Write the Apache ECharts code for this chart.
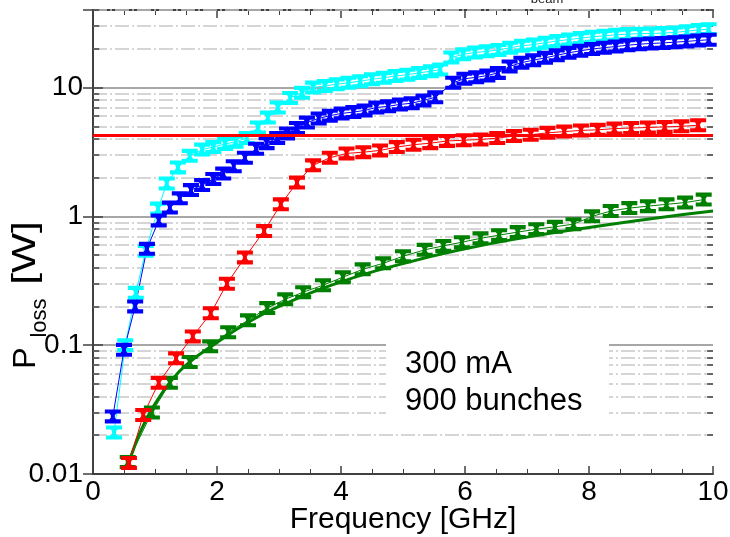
<!DOCTYPE html>
<html>
<head>
<meta charset="utf-8">
<script src="https://cdn.jsdelivr.net/npm/echarts@6/dist/echarts.min.js"></script>
<style>
  html, body { margin: 0; padding: 0; background: #fff; }
  #chart { width: 730px; height: 537px; }
</style>
</head>
<body>
<div id="chart"></div>
<script>
// measured data (frequency in GHz, loss in W)
var cyanFreq = [0.34, 0.52, 0.69, 0.85, 1.05, 1.19, 1.37, 1.56, 1.76, 1.94, 2.13, 2.30, 2.48, 2.66, 2.82, 2.98, 3.18, 3.37,
    3.55, 3.74, 3.93, 4.12, 4.31, 4.50, 4.69, 4.88, 5.07, 5.26, 5.45, 5.60,
    5.78, 5.97, 6.16, 6.35, 6.54, 6.73, 6.92, 7.11, 7.30, 7.49, 7.68, 7.87, 8.06, 8.25, 8.44, 8.63, 8.82, 9.01, 9.20, 9.39, 9.58, 9.77, 9.93];
var cyanLoss = [0.021, 0.100, 0.255, 0.54, 1.15, 1.8, 2.4, 2.95, 3.3, 3.45, 3.65, 3.8, 4.05, 4.9, 5.85, 7.0, 8.3, 9.1,
    10.0, 10.3, 10.6, 10.9, 11.2, 11.6, 11.9, 12.3, 12.6, 13.0, 13.4, 13.8,
    17.1, 18.1, 18.7, 19.1, 19.6, 20.4, 21.1, 21.6, 22.3, 23.0, 23.6, 24.2, 24.8, 25.2, 25.7, 26.0, 26.2, 26.3, 26.5, 26.8, 27.4, 28.0, 28.4];

var blueFreq = [0.32, 0.50, 0.68, 0.87, 1.06, 1.24, 1.40, 1.58, 1.76, 1.94, 2.10, 2.27, 2.45, 2.63, 2.80, 2.97, 3.13, 3.29,
    3.45, 3.64, 3.82, 4.01, 4.20, 4.38, 4.57, 4.76, 4.95, 5.14, 5.33, 5.52,
    5.81, 5.99, 6.18, 6.36, 6.53, 6.72, 6.91, 7.10, 7.29, 7.48, 7.67, 7.86, 8.05, 8.24, 8.43, 8.62, 8.81, 9.00, 9.19, 9.38, 9.57, 9.76, 9.93];
var blueLoss = [0.028, 0.092, 0.20, 0.56, 0.93, 1.17, 1.38, 1.6, 1.75, 1.95, 2.15, 2.45, 2.85, 3.35, 3.7, 4.05, 4.4, 4.85,
    5.35, 5.75, 6.05, 6.3, 6.45, 6.65, 7.0, 7.15, 7.4, 7.55, 7.95, 8.4,
    10.9, 11.7, 12.0, 12.4, 13.0, 14.6, 15.6, 16.3, 17.0, 17.8, 18.6, 19.3, 19.9, 20.4, 20.8, 21.3, 21.7, 22.0, 22.2, 22.5, 22.8, 23.2, 23.5];

var redFreq = [0.58, 0.81, 1.06, 1.34, 1.61, 1.90, 2.16, 2.45, 2.76, 3.03, 3.29, 3.55, 3.82, 4.09, 4.36, 4.63, 4.90, 5.17,
    5.44, 5.71, 5.98, 6.25, 6.52, 6.79, 7.06, 7.33, 7.60, 7.87, 8.14, 8.41, 8.68, 8.95, 9.22, 9.49, 9.76];
var redLoss = [0.0122, 0.0287, 0.051, 0.079, 0.117, 0.177, 0.30, 0.48, 0.77, 1.24, 1.83, 2.49, 2.85, 3.08, 3.15, 3.25, 3.45, 3.6,
    3.7, 3.85, 3.9, 3.95, 4.05, 4.2, 4.3, 4.45, 4.55, 4.65, 4.7, 4.8, 4.85, 4.9, 4.95, 5.0, 5.1];

var greenFreq = [0.56, 0.95, 1.24, 1.56, 1.89, 2.18, 2.50, 2.81, 3.10, 3.39, 3.71, 4.03, 4.35, 4.68, 5.00, 5.35, 5.65, 5.95,
    6.25, 6.55, 6.85, 7.15, 7.45, 7.75, 8.05, 8.35, 8.65, 8.95, 9.25, 9.55, 9.85];
var greenLoss = [0.0124, 0.030, 0.051, 0.074, 0.098, 0.126, 0.156, 0.194, 0.227, 0.258, 0.292, 0.337, 0.388, 0.432, 0.49, 0.55, 0.59, 0.63,
    0.675, 0.715, 0.755, 0.795, 0.83, 0.87, 1.0, 1.1, 1.16, 1.2, 1.24, 1.28, 1.35];

// green fit curve
var fitFreq = [0.55, 0.7, 0.85, 1.0, 1.25, 1.5, 2.0, 2.5, 3.0, 4.0, 5.0, 6.0, 7.0, 8.0, 9.0, 10.0];
var fitLoss = [0.011, 0.018, 0.026, 0.035, 0.052, 0.07, 0.105, 0.15, 0.2, 0.31, 0.43, 0.56, 0.69, 0.82, 0.96, 1.1];

// limit line
var limitLoss = 4.3;

var yTickLabels = ['0.01', '0.1', '1', '10'];
var xTicks = [0, 2, 4, 6, 8, 10];

function pairs(xs, ys) {
    return xs.map(function (x, i) { return [x, ys[i]]; });
}

// minor log grid lines 2..9 in each decade
var minorVals = [];
[0.01, 0.1, 1, 10].forEach(function (d) {
    for (var k = 2; k <= 9; k++) {
        if (d * k <= 40) minorVals.push(+(d * k).toPrecision(3));
    }
});

var gridLines = minorVals.map(function (v) { return { yAxis: v }; });
var sideTicks = [];
minorVals.forEach(function (v) {
    sideTicks.push([{ coord: [0, v] }, { coord: [0.1, v] }]);
    sideTicks.push([{ coord: [9.9, v] }, { coord: [10, v] }]);
});

// error bar marker (I-beam)
var beam = 'path://M0,0H12V3.5H8.5L7.5,5V7L8.5,8.5H12V12H0V8.5H3.5L4.5,7V5L3.5,3.5H0Z';

function pointSeries(name, color, data) {
    return {
        name: name,
        type: 'line',
        data: data,
        symbol: beam,
        symbolSize: [16, 14],
        itemStyle: { color: color },
        lineStyle: { color: color, width: 1 },
        z: 5
    };
}

var chart = echarts.init(document.getElementById('chart'));
var axisColor = '#404040';
var font = 'Liberation Sans, Arial, sans-serif';
var option = {
    animation: false,
    grid: { left: 93, right: 17, top: 10, bottom: 63, outerBoundsMode: 'none', containLabel: false },
    textStyle: { fontFamily: font },
    xAxis: [{
        type: 'value', min: 0, max: 10, interval: 2,
        axisLine: { lineStyle: { color: axisColor, width: 2 } },
        axisTick: { inside: true, length: 8, lineStyle: { color: axisColor, width: 1.5 } },
        minorTick: { show: true, splitNumber: 4, length: 5, lineStyle: { color: axisColor, width: 1 } },
        splitLine: { show: false },
        axisLabel: { color: '#000', fontSize: 28, margin: 4,
            formatter: function (v) { return xTicks.indexOf(v) >= 0 ? String(v) : ''; } },
        name: 'Frequency [GHz]', nameLocation: 'middle', nameGap: 31, nameMoveOverlap: false,
        nameTextStyle: { color: '#000', fontSize: 30, verticalAlign: 'top' }
    }, {
        type: 'value', min: 0, max: 10, interval: 2, position: 'top',
        axisLine: { lineStyle: { color: axisColor, width: 2 } },
        axisTick: { inside: true, length: 8, lineStyle: { color: axisColor, width: 1.5 } },
        minorTick: { show: true, splitNumber: 4, length: 5, lineStyle: { color: axisColor, width: 1 } },
        splitLine: { show: false },
        axisLabel: { show: false }
    }],
    yAxis: [{
        type: 'log', logBase: 10, min: 0.01, max: 40,
        axisLine: { show: true, lineStyle: { color: axisColor, width: 2 } },
        axisTick: { show: true, inside: true, length: 10, lineStyle: { color: axisColor, width: 1.5 } },
        splitLine: { show: true, lineStyle: { color: '#8a8a8a', width: 1.5 } },
        axisLabel: { color: '#000', fontSize: 28, margin: 10,
            formatter: function (v) {
                var s = String(+v.toPrecision(3));
                return yTickLabels.indexOf(s) >= 0 ? s : '';
            } }
    }, {
        type: 'log', logBase: 10, min: 0.01, max: 40, position: 'right',
        axisLine: { show: true, lineStyle: { color: axisColor, width: 2 } },
        axisTick: { show: true, inside: true, length: 10, lineStyle: { color: axisColor, width: 1.5 } },
        splitLine: { show: false },
        axisLabel: { show: false }
    }],
    graphic: [
        { type: 'rect', left: 386, top: 338, shape: { width: 223, height: 90 },
          style: { fill: '#fff' }, z: 3 },
        { type: 'text', left: 405, top: 346, z: 4,
          style: { text: '300 mA\n900 bunches', fill: '#000', font: '31px ' + font, lineHeight: 37 } },
        { type: 'text', x: 26, y: 358, rotation: Math.PI / 2, z: 4,
          style: { text: 'P', fill: '#000', font: '32px ' + font, align: 'center', verticalAlign: 'middle' } },
        { type: 'text', x: 40, y: 318, rotation: Math.PI / 2, z: 4,
          style: { text: 'loss', fill: '#000', font: '22px ' + font, align: 'center', verticalAlign: 'middle' } },
        { type: 'text', x: 26, y: 253, rotation: Math.PI / 2, scaleX: 1.25, z: 4,
          style: { text: '[W]', fill: '#000', font: '34px ' + font, align: 'center', verticalAlign: 'middle' } },
        { type: 'text', x: 547, y: 6, z: 4,
          style: { text: 'beam', fill: '#222', font: '13px ' + font, align: 'center', verticalAlign: 'bottom' } }
    ],
    series: [{
        name: 'grid',
        type: 'line',
        data: [],
        z: 1,
        silent: true,
        markLine: {
            z: 1,
            silent: true, symbol: 'none', label: { show: false },
            lineStyle: { color: '#c8c8c8', width: 1.5, type: [14, 3, 2, 3] },
            data: gridLines
        }
    }, {
        name: 'ticks',
        type: 'line',
        data: [],
        z: 2,
        silent: true,
        markLine: {
            z: 2,
            silent: true, symbol: 'none', label: { show: false },
            lineStyle: { color: axisColor, width: 1.5, type: 'solid' },
            data: sideTicks
        }
    }, {
        name: 'fit',
        type: 'line',
        data: pairs(fitFreq, fitLoss),
        smooth: true,
        showSymbol: false,
        lineStyle: { color: '#008000', width: 3 },
        z: 4
    },
    pointSeries('green', '#008000', pairs(greenFreq, greenLoss)),
    pointSeries('red', '#ff0000', pairs(redFreq, redLoss)),
    pointSeries('cyan', '#00ffff', pairs(cyanFreq, cyanLoss)),
    pointSeries('blue', '#0000ff', pairs(blueFreq, blueLoss)),
    {
        name: 'limit',
        type: 'line',
        data: [],
        z: 6,
        markLine: {
            z: 6,
            silent: true, symbol: 'none', label: { show: false },
            lineStyle: { color: '#ff0000', width: 3, type: 'solid' },
            data: [{ yAxis: limitLoss }]
        }
    }]
};
chart.setOption(option);
</script>
</body>
</html>
